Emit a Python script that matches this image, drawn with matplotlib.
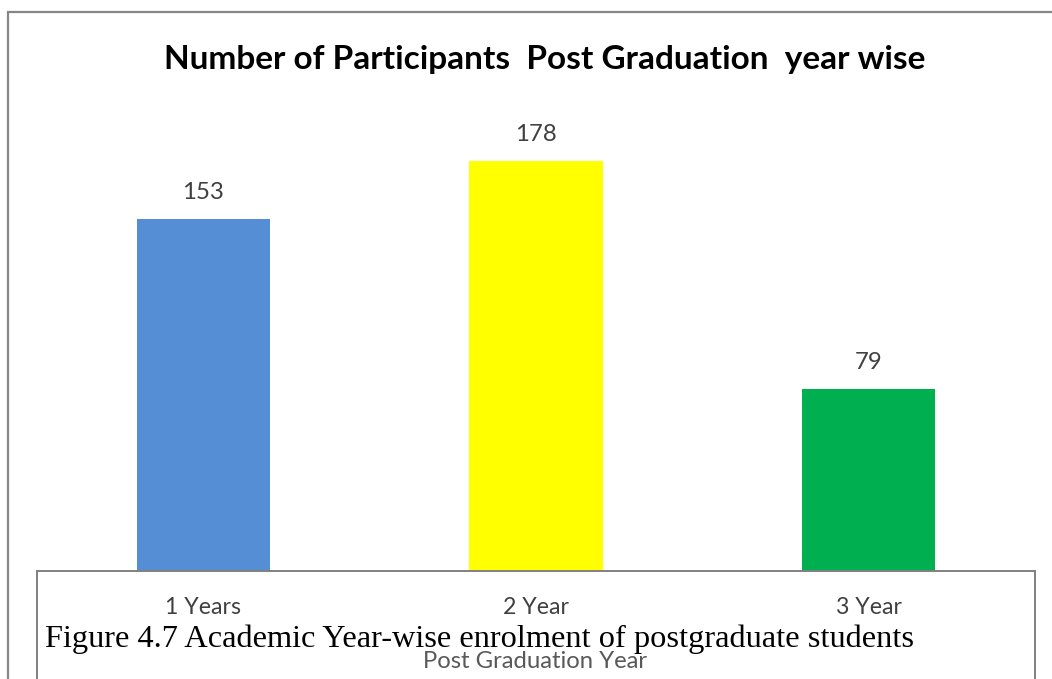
import matplotlib
matplotlib.use("Agg")
import matplotlib.pyplot as plt
from matplotlib.lines import Line2D
from matplotlib.patches import Rectangle

# Chart data
categories = ["1 Years", "2 Year", "3 Year"]
participants = [153, 178, 79]
bar_colors = ["#558ED5", "#FFFF00", "#00B050"]

title = "Number of Participants  Post Graduation  year wise"
x_title = "Post Graduation Year"
caption = "Figure 4.7 Academic Year-wise enrolment of postgraduate students"

W, H = 1052, 679
fig = plt.figure(figsize=(W / 100, H / 100), dpi=100)
fig.patch.set_facecolor("white")

def fx(px):
    return px / W

def fy(py):
    return 1 - py / H

sans = ["Lato", "DejaVu Sans"]
serif = ["Liberation Serif", "DejaVu Serif"]

# Outer chart frame (continues past the right and bottom edges)
fig.patches.append(Rectangle((fx(8), fy(H + 20)), fx(W + 20) - fx(8), fy(12) - fy(H + 20),
                             transform=fig.transFigure, fill=False,
                             edgecolor="#868686", linewidth=1.6, zorder=0))

# Plot area: baseline at y=571 px, spanning the three category slots
left, right = 37, 1035
bottom_px, top_px = 571, 110.5
ax = fig.add_axes([fx(left), fy(bottom_px), fx(right) - fx(left), fy(top_px) - fy(bottom_px)])
ax.set_facecolor("none")
x = list(range(len(categories)))
bars = ax.bar(x, participants, width=0.4, color=bar_colors, zorder=2)
ax.set_xlim(-0.5, len(categories) - 0.5)
ax.set_ylim(0, 200)
for s in ax.spines.values():
    s.set_visible(False)
ax.set_yticks([])
ax.set_xticks(x)
ax.set_xticklabels(categories, fontfamily=sans, fontsize=16.7, color="#404040")
ax.tick_params(axis="x", length=0, pad=19)

for rect, v in zip(bars, participants):
    ax.annotate(str(v), (rect.get_x() + rect.get_width() / 2, v),
                xytext=(0, 19), textcoords="offset points",
                ha="center", va="center", fontsize=17.3, color="#404040",
                fontfamily=sans)

# Chart title
fig.text(fx(545), fy(59), title, ha="center", va="center", fontsize=24,
         fontweight="bold", fontfamily=sans, color="black")

# Axis title
fig.text(fx(535), fy(662), x_title, ha="center", va="center", fontsize=17.2,
         fontfamily=sans, color="#595959")

# Caption box frame (open at the bottom)
frame = dict(color="#808080", linewidth=1.4, transform=fig.transFigure)
fig.add_artist(Line2D([fx(left), fx(right)], [fy(571), fy(571)], **frame))
fig.add_artist(Line2D([fx(left), fx(left)], [fy(571), fy(H + 5)], **frame))
fig.add_artist(Line2D([fx(right), fx(right)], [fy(571), fy(H + 5)], **frame))

# Caption text
fig.text(fx(45), fy(647), caption, ha="left", va="baseline", fontsize=23.3,
         fontfamily=serif, color="black")

fig.savefig("out.png", dpi=100)
